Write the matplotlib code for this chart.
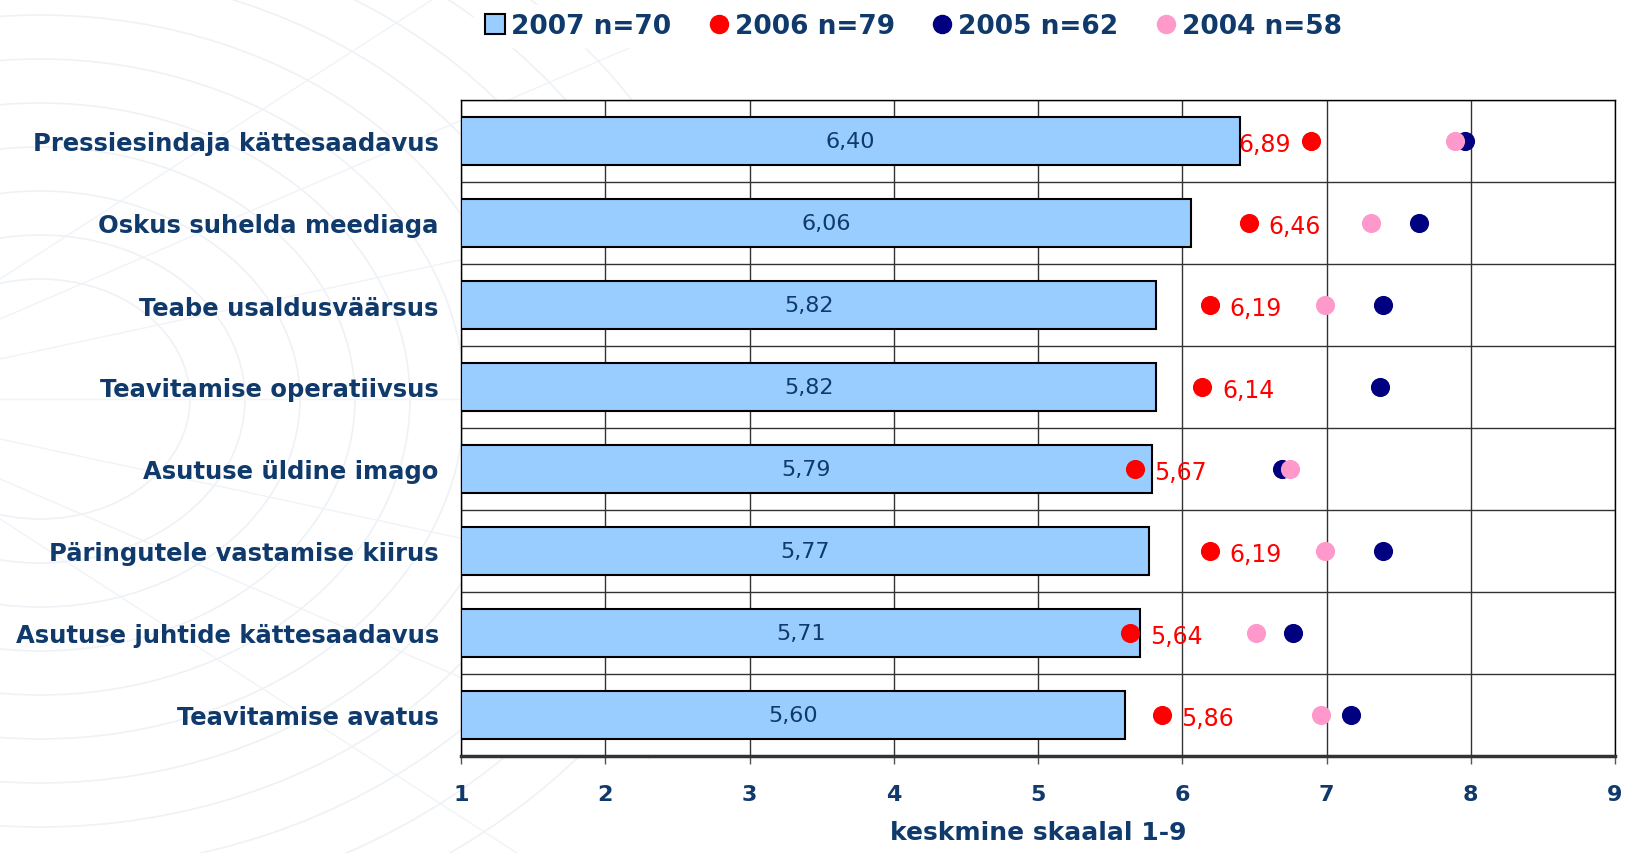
import numpy as np
import matplotlib
matplotlib.use("Agg")
import matplotlib.pyplot as plt
from matplotlib.patches import Ellipse
from matplotlib.lines import Line2D

# data (top to bottom)
categories = [
    "Pressiesindaja kättesaadavus",
    "Oskus suhelda meediaga",
    "Teabe usaldusväärsus",
    "Teavitamise operatiivsus",
    "Asutuse üldine imago",
    "Päringutele vastamise kiirus",
    "Asutuse juhtide kättesaadavus",
    "Teavitamise avatus",
]
values_2007 = [6.40, 6.06, 5.82, 5.82, 5.79, 5.77, 5.71, 5.60]
values_2006 = [6.89, 6.46, 6.19, 6.14, 5.67, 6.19, 5.64, 5.86]
values_2005 = [7.96, 7.64, 7.39, 7.37, 6.69, 7.39, 6.77, 7.17]
values_2004 = [7.89, 7.31, 6.99, np.nan, 6.75, 6.99, 6.51, 6.96]
series_names = ["2007 n=70", "2006 n=79", "2005 n=62", "2004 n=58"]
x_ticks = [1, 2, 3, 4, 5, 6, 7, 8, 9]

# where the 2006 label sits relative to its dot
label_side = ["left", "right", "right", "right", "right", "right", "right", "right"]

NAVY_TXT = "#0f3a6b"
BAR = "#99ccff"
RED = "#ff0000"
NAVY = "#000080"
PINK = "#ff99cc"

fig = plt.figure(figsize=(16.25, 8.54), dpi=100)

# faint background swirl
bg = fig.add_axes([0, 0, 1, 1], zorder=-10)
bg.set_xlim(0, 1625)
bg.set_ylim(854, 0)
bg.axis("off")
for w in np.arange(300, 1500, 110):
    bg.add_patch(Ellipse((40, 400), w, w * 0.8, fill=False,
                         edgecolor="#eef2f6", linewidth=1.2))
for a in np.linspace(-0.6, 0.6, 7):
    bg.plot([0, 650], [400 + a * 200, 400 + a * 900], color="#f0f3f7", lw=1)

ax = fig.add_axes([461 / 1625, 1 - 757 / 854, (1615 - 461) / 1625, (757 - 101) / 854])
ax.set_facecolor("white")

y = np.arange(len(categories)) + 0.5

ax.barh(y, np.array(values_2007) - 1, left=1, height=0.58, color=BAR,
        edgecolor="black", linewidth=1.5, zorder=3)
for yi, v in zip(y, values_2007):
    ax.text((1 + v) / 2, yi, f"{v:.2f}".replace(".", ","), ha="center", va="center",
            fontsize=16, color=NAVY_TXT, fontweight="medium", zorder=5)

ax.scatter(values_2006, y, s=190, color=RED, zorder=4, linewidths=0)
ax.scatter(values_2005, y, s=190, color=NAVY, zorder=4, linewidths=0)
ax.scatter(values_2004, y, s=190, color=PINK, zorder=4, linewidths=0)

for yi, v, side in zip(y, values_2006, label_side):
    txt = f"{v:.2f}".replace(".", ",")
    if side == "left":
        ax.annotate(txt, (v, yi), xytext=(-14, -2), textcoords="offset points",
                    ha="right", va="center", fontsize=17, color=RED, zorder=6)
    else:
        ax.annotate(txt, (v, yi), xytext=(14, -2), textcoords="offset points",
                    ha="left", va="center", fontsize=17, color=RED, zorder=6)

ax.set_xlim(1, 9)
ax.set_ylim(len(categories), 0)
ax.set_xticks(x_ticks)
ax.set_xticklabels([str(t) for t in x_ticks], fontsize=16, fontweight="bold", color=NAVY_TXT)
ax.set_yticks(y)
ax.set_yticklabels(categories, fontsize=17.5, fontweight="bold", color=NAVY_TXT)
ax.set_yticks(np.arange(len(categories) + 1), minor=True)
ax.tick_params(axis="y", which="both", length=0, pad=16)
ax.tick_params(axis="x", length=6, width=1, pad=14, color="#555555")
ax.grid(axis="x", which="major", color="#333333", linewidth=1, zorder=1)
ax.grid(axis="y", which="minor", color="#333333", linewidth=1, zorder=1)
for s in ax.spines.values():
    s.set_color("black")
    s.set_linewidth(1)
ax.spines["bottom"].set_linewidth(2.5)
ax.spines["bottom"].set_color("#333333")
ax.set_axisbelow(True)

ax.set_xlabel("keskmine skaalal 1-9", fontsize=18, fontweight="bold",
              color=NAVY_TXT, labelpad=12)

handles = [
    Line2D([], [], marker="s", linestyle="none", markersize=14,
           markerfacecolor=BAR, markeredgecolor="black", markeredgewidth=1.5),
    Line2D([], [], marker="o", linestyle="none", markersize=13, color=RED),
    Line2D([], [], marker="o", linestyle="none", markersize=13, color=NAVY),
    Line2D([], [], marker="o", linestyle="none", markersize=13, color=PINK),
]
leg = fig.legend(handles, series_names, loc="center", bbox_to_anchor=(912 / 1625, 1 - 27 / 854),
                 ncol=4, frameon=True, prop={"size": 19, "weight": "bold"},
                 handletextpad=0.1, columnspacing=1.3,
                 handlelength=1.0, borderpad=0.3, fancybox=False)
leg.get_frame().set_edgecolor("white")
leg.get_frame().set_facecolor("white")
leg.get_frame().set_alpha(1)
for t in leg.get_texts():
    t.set_color(NAVY_TXT)

fig.savefig("out.png", dpi=100, facecolor="white")
